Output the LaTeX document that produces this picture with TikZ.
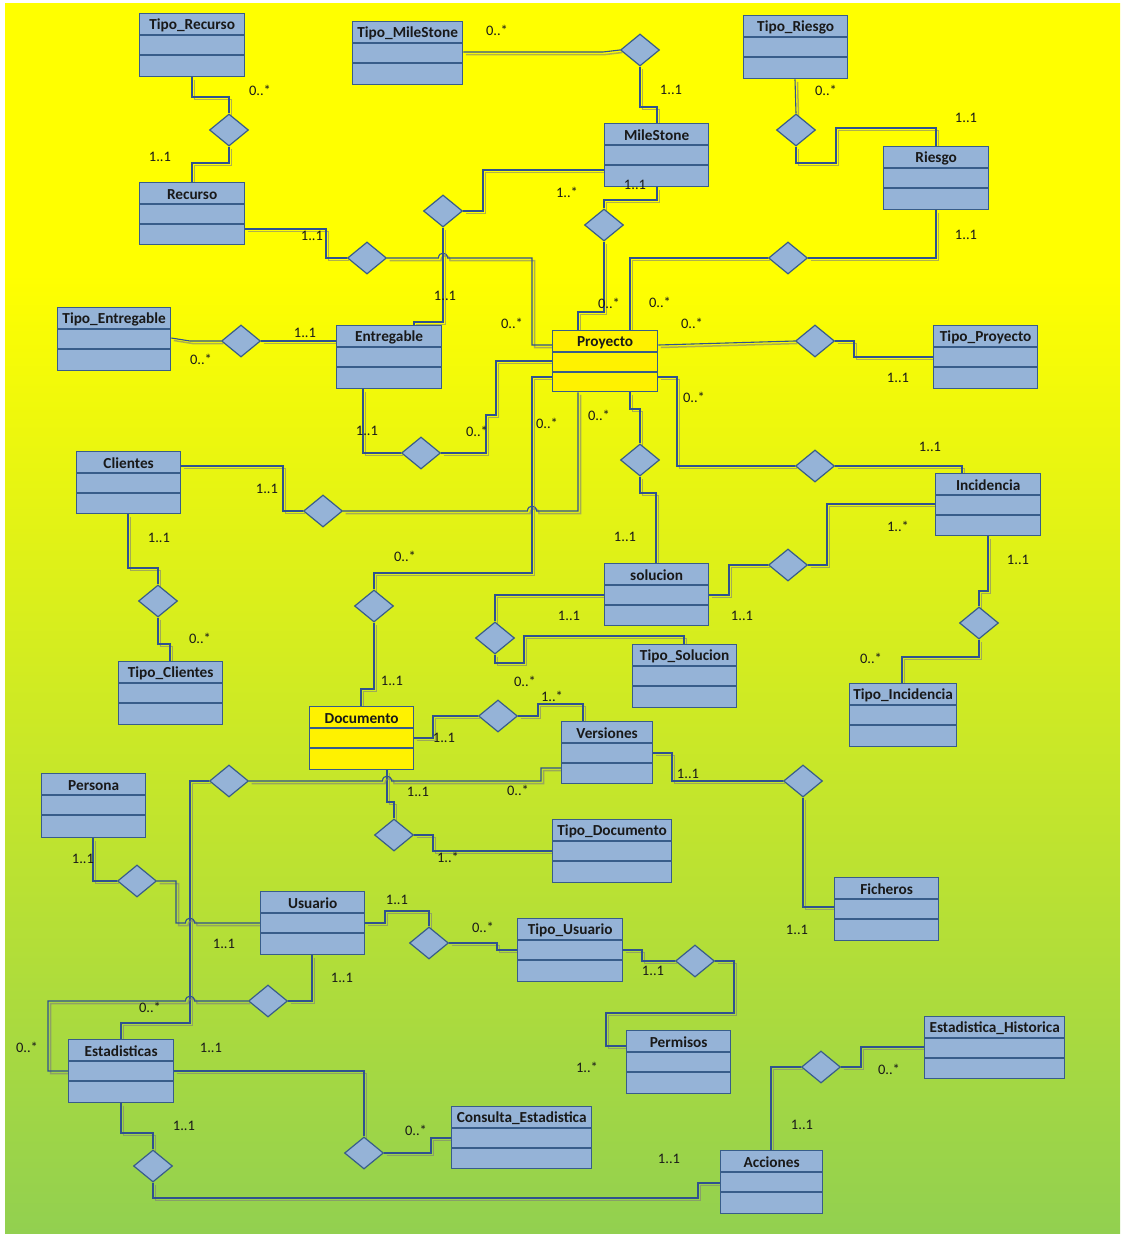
\documentclass[tikz,border=0pt]{standalone}
\usepackage{fontspec}
\setmainfont{Carlito}
\usetikzlibrary{shapes.geometric,calc}
\definecolor{bgG}{RGB}{146,208,80}
\definecolor{boxF}{RGB}{149,179,215}
\definecolor{boxD}{RGB}{56,93,138}
\definecolor{lnC}{RGB}{47,82,143}
\definecolor{shC}{RGB}{125,125,125}
\pgfdeclareverticalshading{bgshade}{100bp}{color(0bp)=(bgG); color(25bp)=(bgG); color(64bp)=(yellow); color(100bp)=(yellow)}
\pgfdeclarelayer{bglayer}
\pgfdeclarelayer{connlayer}
\pgfsetlayers{bglayer,connlayer,main}
\tikzset{
 clsbox/.style={draw=boxD, line width=1.3pt, rectangle, inner sep=0pt, anchor=north west},
 clstitle/.style={font=\fontsize{15.3}{18}\selectfont\bfseries, text=black!90, inner sep=0pt},
 clsline/.style={draw=boxD, line width=1.3pt},
 rel/.style={diamond, draw=boxD, fill=boxF, line width=1.2pt, minimum width=39pt, minimum height=32pt, inner sep=0pt},
 card/.style={font=\fontsize{14.5}{17}\selectfont, text=black!90, inner sep=0pt},
 connline/.style={draw=lnC, line width=1.1pt},
 connshadow/.style={draw=shC, opacity=0.6, line width=1.5pt, transform canvas={shift={(2.5,2.5)}}},
}
\newcommand\umlcls[7]{%
 \pgfmathsetmacro\clsW{#4-#2}\pgfmathsetmacro\clsH{#5-#3}%
 \node[clsbox, fill=#7, minimum width=\clsW pt, minimum height=\clsH pt] (#1) at (#2,#3) {};
 \draw[clsline] ($(#1.north west)+(0,22)$) -- ($(#1.north east)+(0,22)$);
 \draw[clsline] ($(#1.north west)+(0,42)$) -- ($(#1.north east)+(0,42)$);
 \node[clstitle] (#1T) at ($(#1.north)+(0,12.3)$) {#6};
}
\newcommand\conn[1]{\draw[connshadow] #1; \draw[connline] #1;}
\begin{document}
\begin{tikzpicture}[x=1pt,y=-1pt]
\useasboundingbox (0,0) rectangle (1120,1235);
\begin{pgfonlayer}{bglayer}
\fill[white] (0,0) rectangle (1120,1235);
\shade[shading=bgshade] (5,3) rectangle (1120,1233);
\end{pgfonlayer}

% classes
\umlcls{TipoRecurso}{139}{13}{244}{76}{Tipo\_Recurso}{boxF}
\umlcls{Recurso}{139}{182}{244}{244}{Recurso}{boxF}
\umlcls{TipoMileStone}{352}{21}{462}{84}{Tipo\_MileStone}{boxF}
\umlcls{MileStone}{604}{123}{708}{186}{MileStone}{boxF}
\umlcls{TipoRiesgo}{743}{15}{847}{78}{Tipo\_Riesgo}{boxF}
\umlcls{Riesgo}{883}{146}{988}{209}{Riesgo}{boxF}
\umlcls{TipoEntregable}{57}{307}{170}{370}{Tipo\_Entregable}{boxF}
\umlcls{Entregable}{336}{325}{441}{388}{Entregable}{boxF}
\umlcls{Proyecto}{552}{330}{657}{391}{Proyecto}{yellow}
\umlcls{TipoProyecto}{933}{325}{1037}{388}{Tipo\_Proyecto}{boxF}
\umlcls{Clientes}{76}{451}{180}{513}{Clientes}{boxF}
\umlcls{Incidencia}{935}{473}{1040}{535}{Incidencia}{boxF}
\umlcls{solucion}{604}{563}{708}{625}{solucion}{boxF}
\umlcls{TipoClientes}{118}{661}{222}{724}{Tipo\_Clientes}{boxF}
\umlcls{TipoSolucion}{632}{644}{736}{707}{Tipo\_Solucion}{boxF}
\umlcls{TipoIncidencia}{849}{683}{956}{746}{Tipo\_Incidencia}{boxF}
\umlcls{Documento}{309}{706}{413}{769}{Documento}{yellow}
\umlcls{Versiones}{561}{721}{652}{783}{Versiones}{boxF}
\umlcls{Persona}{41}{773}{145}{837}{Persona}{boxF}
\umlcls{TipoDocumento}{552}{819}{671}{882}{Tipo\_Documento}{boxF}
\umlcls{Ficheros}{834}{877}{938}{940}{Ficheros}{boxF}
\umlcls{Usuario}{260}{891}{364}{954}{Usuario}{boxF}
\umlcls{TipoUsuario}{517}{918}{622}{981}{Tipo\_Usuario}{boxF}
\umlcls{Estadisticas}{68}{1039}{173}{1102}{Estadisticas}{boxF}
\umlcls{Permisos}{626}{1030}{730}{1093}{Permisos}{boxF}
\umlcls{EstadisticaHistorica}{924}{1016}{1064}{1078}{Estadistica\_Historica}{boxF}
\umlcls{ConsultaEstadistica}{451}{1106}{591}{1168}{Consulta\_Estadistica}{boxF}
\umlcls{Acciones}{720}{1150}{822}{1213}{Acciones}{boxF}

% relationship diamonds
\node[rel] (dRec1) at (229,130) {};
\node[rel] (dMS1) at (640,50) {};
\node[rel] (dRi1) at (796,130) {};
\node[rel] (dMS2) at (443,211) {};
\node[rel] (dMS3) at (604,225) {};
\node[rel] (dRec2) at (367,258) {};
\node[rel] (dRi2) at (788,258) {};
\node[rel] (dTE) at (241,341) {};
\node[rel] (dTP) at (815,341) {};
\node[rel] (dEP) at (421,453) {};
\node[rel] (dPS) at (640,460) {};
\node[rel] (dPI) at (815,466) {};
\node[rel] (dCP) at (323,511) {};
\node[rel] (dIS) at (788,565) {};
\node[rel] (dCT) at (158,601) {};
\node[rel] (dPD) at (374,606) {};
\node[rel] (dIT) at (979,623) {};
\node[rel] (dST) at (495,638) {};
\node[rel] (dDV) at (498,716) {};
\node[rel] (dVE) at (229,781) {};
\node[rel] (dVF) at (803,781) {};
\node[rel] (dDT) at (394,835) {};
\node[rel] (dPU) at (137,881) {};
\node[rel] (dUT) at (429,943) {};
\node[rel] (dTUP) at (695,961) {};
\node[rel] (dUE) at (268,1001) {};
\node[rel] (dAH) at (821,1067) {};
\node[rel] (dEC) at (364,1153) {};
\node[rel] (dEA) at (153,1166) {};

% connectors
\begin{pgfonlayer}{connlayer}
\conn{(TipoRecurso.south -| 192,0) -- (192,97) -- (229,97) -- (dRec1.north)}
\conn{(dRec1.south) -- (229,163) -- (192,163) -- (Recurso.north -| 192,0)}
\conn{(Recurso.east |- 0,229) -- (326,229) -- (326,258) -- (dRec2.west)}
\conn{(dRec2.east) -- (438.5,258) .. controls (438.5,251.5) and (447.5,251.5) .. (447.5,258) -- (532,258) -- (532,345) -- (Proyecto.west |- 0,345)}
\conn{(TipoMileStone.east |- 0,52) -- (603,52) -- (dMS1.west)}
\conn{(dMS1.south) -- (640,107) -- (657,107) -- (MileStone.north -| 657,0)}
\conn{(MileStone.west |- 0,170) -- (483,170) -- (483,211) -- (dMS2.east)}
\conn{(dMS2.south) -- (443,322) -- (414,322) -- (Entregable.north -| 414,0)}
\conn{(MileStone.south -| 657,0) -- (657,200) -- (604,200) -- (dMS3.north)}
\conn{(dMS3.south) -- (604,312) -- (578,312) -- (Proyecto.north -| 578,0)}
\conn{(TipoRiesgo.south -| 795,0) -- (dRi1.north)}
\conn{(dRi1.south) -- (796,163) -- (836,163) -- (836,128) -- (936,128) -- (Riesgo.north -| 936,0)}
\conn{(Riesgo.south -| 936,0) -- (936,258) -- (dRi2.east)}
\conn{(dRi2.west) -- (630,258) -- (Proyecto.north -| 630,0)}
\conn{(TipoEntregable.east |- 0,338) -- (190,341) -- (dTE.west)}
\conn{(dTE.east) -- (Entregable.west |- 0,341)}
\conn{(Proyecto.east |- 0,345) -- (dTP.west)}
\conn{(dTP.east) -- (854,341) -- (854,357) -- (TipoProyecto.west |- 0,357)}
\conn{(Proyecto.west |- 0,361) -- (496,361) -- (496,415) -- (486,415) -- (486,453) -- (dEP.east)}
\conn{(dEP.west) -- (363,453) -- (Entregable.south -| 363,0)}
\conn{(Proyecto.south -| 630,0) -- (630,409) -- (640,409) -- (dPS.north)}
\conn{(dPS.south) -- (640,493) -- (656,493) -- (solucion.north -| 656,0)}
\conn{(Proyecto.east |- 0,377) -- (677,377) -- (677,466) -- (dPI.west)}
\conn{(dPI.east) -- (962,466) -- (Incidencia.north -| 962,0)}
\conn{(Proyecto.south -| 578,0) -- (578,511) -- (536.5,511) .. controls (536.5,504.5) and (527.5,504.5) .. (527.5,511) -- (dCP.east)}
\conn{(dCP.west) -- (283,511) -- (283,466) -- (Clientes.east |- 0,466)}
\conn{(Incidencia.west |- 0,504) -- (827,504) -- (827,565) -- (dIS.east)}
\conn{(dIS.west) -- (729,565) -- (729,595) -- (solucion.east |- 0,595)}
\conn{(Clientes.south -| 128,0) -- (128,568) -- (158,568) -- (dCT.north)}
\conn{(dCT.south) -- (158,644) -- (170,644) -- (TipoClientes.north -| 170,0)}
\conn{(Proyecto.west |- 0,377) -- (532,377) -- (532,573) -- (374,573) -- (dPD.north)}
\conn{(dPD.south) -- (374,689) -- (361,689) -- (Documento.north -| 361,0)}
\conn{(Incidencia.south -| 988,0) -- (988,591) -- (979,591) -- (dIT.north)}
\conn{(dIT.south) -- (979,657) -- (902,657) -- (TipoIncidencia.north -| 902,0)}
\conn{(solucion.west |- 0,595) -- (495,595) -- (dST.north)}
\conn{(dST.south) -- (495,663) -- (524,663) -- (524,636) -- (684,636) -- (TipoSolucion.north -| 684,0)}
\conn{(Documento.east |- 0,738) -- (433,738) -- (433,716) -- (dDV.west)}
\conn{(dDV.east) -- (538,716) -- (538,704) -- (583,704) -- (Versiones.north -| 583,0)}
\conn{(Versiones.east |- 0,753) -- (672,753) -- (672,781) -- (dVF.west)}
\conn{(dVF.south) -- (803,907) -- (Ficheros.west |- 0,907)}
\conn{(Documento.south -| 387,0) -- (387,802) -- (394,802) -- (dDT.north)}
\conn{(dDT.east) -- (433,835) -- (433,851) -- (TipoDocumento.west |- 0,851)}
\conn{(Versiones.west |- 0,768) -- (541,768) -- (541,781) -- (391.5,781) .. controls (391.5,774.5) and (382.5,774.5) .. (382.5,781) -- (dVE.east)}
\conn{(dVE.west) -- (190,781) -- (190,1023) -- (121,1023) -- (Estadisticas.north -| 121,0)}
\conn{(Persona.south -| 93,0) -- (93,881) -- (dPU.west)}
\conn{(dPU.east) -- (176,881) -- (176,923) -- (185.5,923) .. controls (185.5,916.5) and (194.5,916.5) .. (194.5,923) -- (Usuario.west |- 0,923)}
\conn{(Usuario.east |- 0,923) -- (385,923) -- (385,911) -- (429,911) -- (dUT.north)}
\conn{(dUT.east) -- (497,943) -- (497,950) -- (TipoUsuario.west |- 0,950)}
\conn{(TipoUsuario.east |- 0,950) -- (642,950) -- (642,961) -- (dTUP.west)}
\conn{(dTUP.east) -- (734,961) -- (734,1013) -- (606,1013) -- (606,1046) -- (Permisos.west |- 0,1046)}
\conn{(Usuario.south -| 312,0) -- (312,1001) -- (dUE.east)}
\conn{(dUE.west) -- (194.5,1001) .. controls (194.5,994.5) and (185.5,994.5) .. (185.5,1001) -- (48,1001) -- (48,1071) -- (Estadisticas.west |- 0,1071)}
\conn{(Estadisticas.east |- 0,1071) -- (364,1071) -- (dEC.north)}
\conn{(dEC.east) -- (431,1153) -- (431,1138) -- (ConsultaEstadistica.west |- 0,1138)}
\conn{(Estadisticas.south -| 121,0) -- (121,1133) -- (153,1133) -- (dEA.north)}
\conn{(dEA.south) -- (153,1198) -- (698,1198) -- (698,1183) -- (Acciones.west |- 0,1183)}
\conn{(Acciones.north -| 771,0) -- (771,1067) -- (dAH.west)}
\conn{(dAH.east) -- (861,1067) -- (861,1047) -- (EstadisticaHistorica.west |- 0,1047)}
\end{pgfonlayer}

% cardinalities
\node[card] (l1) at (260,90) {0..*};
\node[card] (l2) at (160,157) {1..1};
\node[card] (l3) at (312,236) {1..1};
\node[card] (l4) at (497,30) {0..*};
\node[card] (l5) at (671,90) {1..1};
\node[card] (l6) at (567,192) {1..*};
\node[card] (l7) at (635,185) {1..1};
\node[card] (l8) at (826,90) {0..*};
\node[card] (l9) at (966,118) {1..1};
\node[card] (l10) at (966,235) {1..1};
\node[card] (l11) at (445,296) {1..1};
\node[card] (l12) at (512,323) {0..*};
\node[card] (l13) at (609,303) {0..*};
\node[card] (l14) at (660,302) {0..*};
\node[card] (l15) at (692,323) {0..*};
\node[card] (l16) at (305,333) {1..1};
\node[card] (l17) at (201,359) {0..*};
\node[card] (l18) at (898,378) {1..1};
\node[card] (l19) at (694,397) {0..*};
\node[card] (l20) at (599,415) {0..*};
\node[card] (l21) at (547,423) {0..*};
\node[card] (l22) at (477,431) {0..*};
\node[card] (l23) at (367,431) {1..1};
\node[card] (l24) at (930,447) {1..1};
\node[card] (l25) at (267,489) {1..1};
\node[card] (l26) at (898,526) {1..*};
\node[card] (l27) at (159,538) {1..1};
\node[card] (l28) at (625,537) {1..1};
\node[card] (l29) at (405,556) {0..*};
\node[card] (l30) at (1018,560) {1..1};
\node[card] (l31) at (569,616) {1..1};
\node[card] (l32) at (742,616) {1..1};
\node[card] (l33) at (200,638) {0..*};
\node[card] (l34) at (871,658) {0..*};
\node[card] (l35) at (525,681) {0..*};
\node[card] (l36) at (392,681) {1..1};
\node[card] (l37) at (552,696) {1..*};
\node[card] (l38) at (444,738) {1..1};
\node[card] (l39) at (688,774) {1..1};
\node[card] (l40) at (518,790) {0..*};
\node[card] (l41) at (418,792) {1..1};
\node[card] (l42) at (448,857) {1..*};
\node[card] (l43) at (83,859) {1..1};
\node[card] (l44) at (397,900) {1..1};
\node[card] (l45) at (483,927) {0..*};
\node[card] (l46) at (797,930) {1..1};
\node[card] (l47) at (224,944) {1..1};
\node[card] (l48) at (653,971) {1..1};
\node[card] (l49) at (342,978) {1..1};
\node[card] (l50) at (150,1007) {0..*};
\node[card] (l51) at (27,1047) {0..*};
\node[card] (l52) at (211,1048) {1..1};
\node[card] (l53) at (587,1067) {1..*};
\node[card] (l54) at (889,1069) {0..*};
\node[card] (l55) at (184,1126) {1..1};
\node[card] (l56) at (416,1130) {0..*};
\node[card] (l57) at (802,1125) {1..1};
\node[card] (l58) at (669,1159) {1..1};
\end{tikzpicture}
\end{document}
